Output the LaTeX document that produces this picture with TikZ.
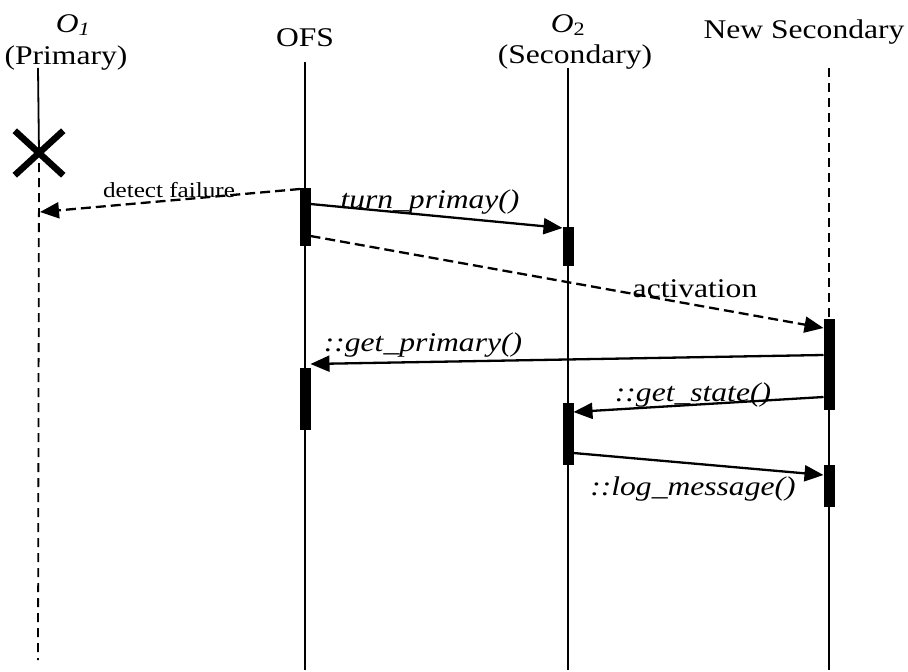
\documentclass[tikz,border=0pt]{standalone}
\usepackage{fontspec}
\setmainfont{Liberation Serif}[FakeStretch=1.17]
\usetikzlibrary{arrows.meta,shapes.misc}
\begin{document}
\begin{tikzpicture}[x=1pt,y=-1pt,
 life/.style={line width=1.8pt},
 lifedash/.style={line width=1.8pt,dash pattern=on 9pt off 6pt},
 actbar/.style={fill=black,draw=none,minimum width=11pt,inner sep=0pt},
 msg/.style={line width=2.3pt,-{Triangle[length=19pt,width=16pt]}},
 msgd/.style={msg,dash pattern=on 10pt off 5pt},
 hdr/.style={font=\fontsize{27}{29}\selectfont,inner sep=0pt,anchor=base},
 lbl/.style={font=\fontsize{27}{29}\selectfont\itshape,inner sep=0pt,anchor=base},
]
\useasboundingbox (0,0) rectangle (908,672);
% headers
\node[hdr] (h1a) at (73,32) {\textit{O}\textsubscript{\textit{1}}};
\node[hdr] (h1b) at (66,64) {(Primary)};
\node[hdr] (h2) at (305,46) {OFS};
\node[hdr] (h3a) at (568,32) {\textit{O}\textsubscript{2}};
\node[hdr] (h3b) at (575,63) {(Secondary)};
\node[hdr] (h4) at (804,38) {New Secondary};
% lifeline coordinates
\coordinate (l1a) at (38,68);
\coordinate (l1c) at (38,660);
\coordinate (l2a) at (305,62);
\coordinate (l2b) at (305,670);
\coordinate (l3a) at (568,68);
\coordinate (l3b) at (568,670);
\coordinate (l4a) at (829,68);
\coordinate (l4b) at (829,319);
\coordinate (l4c) at (829,670);
% cross mark
\node[cross out,draw,line width=6.5pt,minimum width=42pt,minimum height=38pt,inner sep=0pt] (xmark) at (39,153) {};
% lifelines
\draw[life] (l1a) -- (xmark.center);
\draw[lifedash] (xmark.south |- 0,163) coordinate (l1b) -- (l1c);
\draw[life] (l2a) -- (l2b);
\draw[life] (l3a) -- (l3b);
\draw[lifedash] (l4a) -- (l4b);
\draw[life] (l4b) -- (l4c);
% activation bars
\node[actbar,minimum height=58pt] (b1) at (305,217) {};
\node[actbar,minimum height=39pt] (b2) at (568,246.5) {};
\node[actbar,minimum height=91pt] (b3) at (829,364.5) {};
\node[actbar,minimum height=62pt] (b4) at (305,399) {};
\node[actbar,minimum height=62pt] (b5) at (568,434) {};
\node[actbar,minimum height=42pt] (b6) at (829,486) {};
% message endpoints
\coordinate (d1) at (300,189);
\coordinate (d2) at (40,212);
\coordinate (t1) at (310.5,204);
\coordinate (t2) at (562.5,228);
\coordinate (a1) at (310.5,236);
\coordinate (a2) at (823.5,328);
\coordinate (g1) at (823.5,355);
\coordinate (g2) at (310.5,364);
\coordinate (s1) at (823.5,397);
\coordinate (s2) at (573.5,412);
\coordinate (m1) at (573.5,453);
\coordinate (m2) at (823.5,475);
% messages
\draw[msgd] (d1) -- (d2);
\draw[msg] (t1) -- (t2);
\draw[msgd] (a1) -- (a2);
\draw[msg] (g1) -- (g2);
\draw[msg] (s1) -- (s2);
\draw[msg] (m1) -- (m2);
% labels
\node[inner sep=0pt,anchor=base,font=\fontsize{21.5}{23}\selectfont] (ld) at (169,197) {detect failure};
\node[lbl] (lt) at (430,208) {turn\_primay()};
\node[hdr] (la) at (695,297) {activation};
\node[lbl] (lg) at (423,351) {::get\_primary()};
\node[lbl] (ls) at (693,401) {::get\_state()};
\node[lbl] (lm) at (693,495) {::log\_message()};
\end{tikzpicture}
\end{document}
